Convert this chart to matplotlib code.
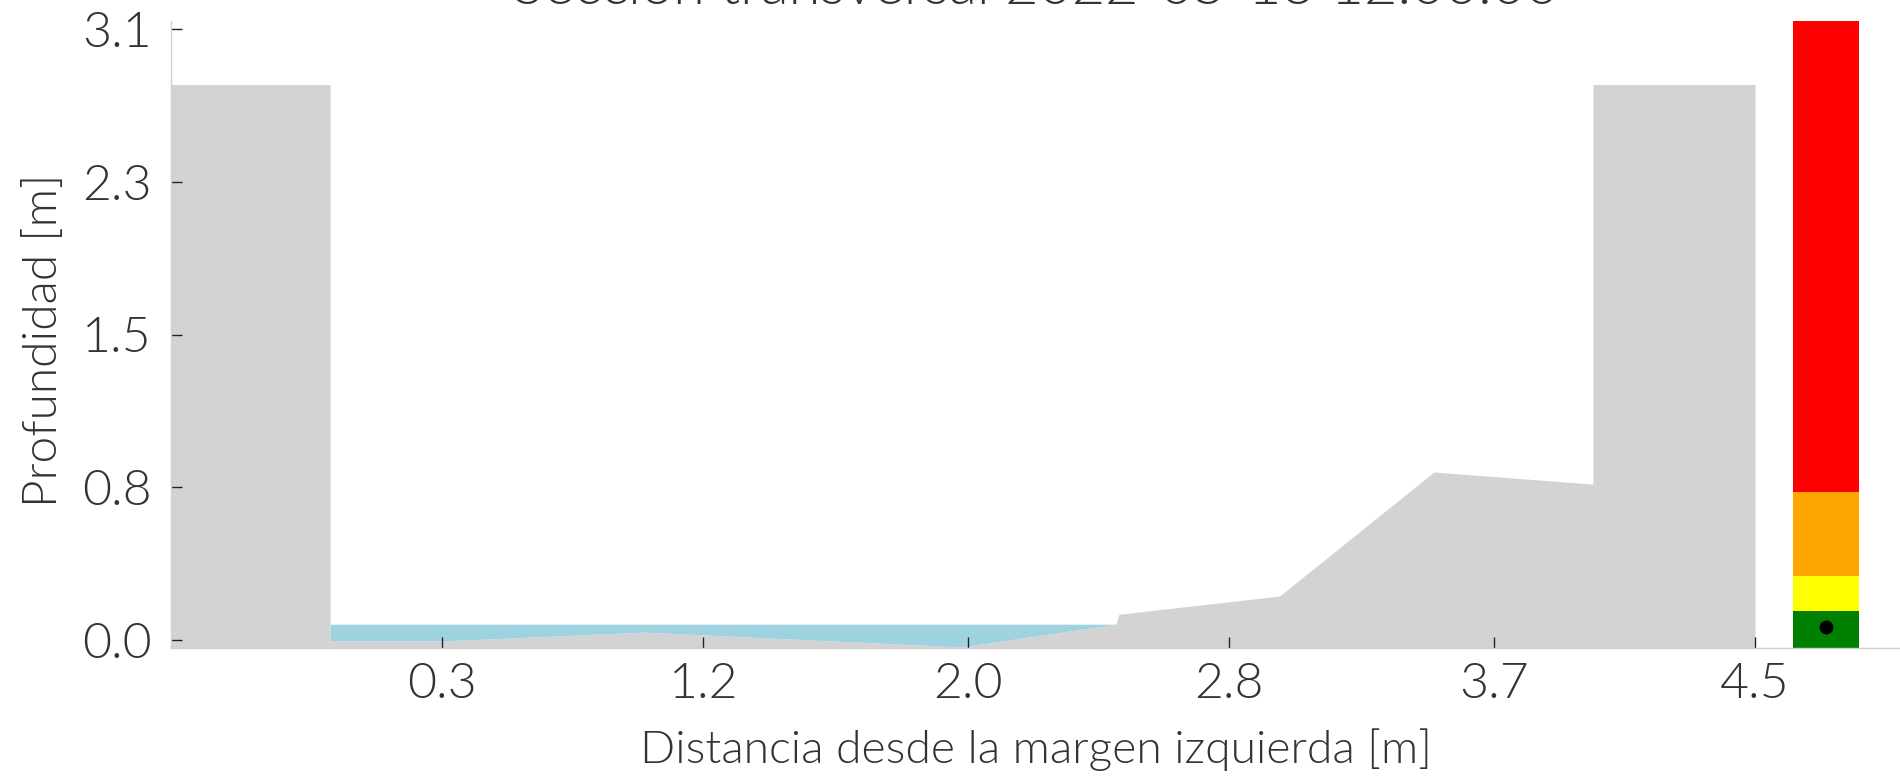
import numpy as np
import matplotlib
matplotlib.use("Agg")
import matplotlib.pyplot as plt

plt.rcParams["font.family"] = ["Lato", "DejaVu Sans"]

# perfil del terreno (margenes + lecho), en metros
terreno_x = [-0.53, -0.025, -0.025, 0.33, 0.97, 1.98, 2.47, 2.48, 2.99, 3.48, 3.985, 3.985, 4.5]
terreno_y = [2.80, 2.80, -0.005, -0.005, 0.04, -0.035, 0.08, 0.13, 0.222, 0.847, 0.786, 2.80, 2.80]

# lecho bajo el agua
lecho_x = [-0.025, 0.33, 0.97, 1.98, 2.47]
lecho_y = [-0.005, -0.005, 0.04, -0.035, 0.08]
nivel_agua = 0.08

# semaforo de alerta
alerta_limites = [-0.04, 0.146, 0.323, 0.746, 3.12]
alerta_colores = ["green", "yellow", "orange", "red"]
alerta_x = 4.725
nivel_actual = 0.065

xticks = [0.33, 1.16, 2.0, 2.83, 3.67, 4.5]
xtick_labels = ["0.3", "1.2", "2.0", "2.8", "3.7", "4.5"]
yticks = [0.0, 0.77, 1.54, 2.31, 3.08]
ytick_labels = ["0.0", "0.8", "1.5", "2.3", "3.1"]

titulo = "Sección transversal 2022-05-13 12:00:00"
fondo = -0.04
texto = "#333333"
peso = 300

fig = plt.figure(figsize=(19, 7.77), dpi=100)
ax = fig.add_axes([171 / 1900, 1 - 648 / 777, (1900 - 171) / 1900, (648 - 21) / 777])

ax.fill_between(terreno_x, terreno_y, fondo, color="lightgray", lw=0)
ax.fill_between(lecho_x, lecho_y, nivel_agua, color="#9fd2e1", lw=0)

for i, c in enumerate(alerta_colores):
    ax.bar(alerta_x, alerta_limites[i + 1] - alerta_limites[i], bottom=alerta_limites[i],
           width=0.21, color=c, lw=0)
ax.plot(alerta_x, nivel_actual, "o", color="black", ms=9)

ax.set_xlim(-0.53, 4.96)
ax.set_ylim(fondo, 3.12)
ax.set_xticks(xticks)
ax.set_xticklabels(xtick_labels, fontweight=peso)
ax.set_yticks(yticks)
ax.set_yticklabels(ytick_labels, fontweight=peso)

ax.tick_params(axis="both", direction="in", length=8, width=1, color="#222222",
               labelcolor=texto, labelsize=36)
ax.tick_params(axis="y", pad=14)
ax.tick_params(axis="x", pad=10)

for s in ["top", "right"]:
    ax.spines[s].set_visible(False)
for s in ["left", "bottom"]:
    ax.spines[s].set_color("#cfcfcf")
    ax.spines[s].set_linewidth(1)

ax.set_xlabel("Distancia desde la margen izquierda [m]", fontsize=33.3, color=texto, fontweight=peso)
ax.xaxis.label.set_va("baseline")
ax.xaxis.set_label_coords(0.5, (648 - 763) / 627)
ax.set_ylabel("Profundidad [m]", fontsize=34.5, color=texto, fontweight=peso)
ax.yaxis.label.set_va("baseline")
ax.yaxis.set_label_coords((57 - 171) / 1729, 0.49)
ax.set_title(titulo, fontsize=41.5, color=texto, pad=12, fontweight=peso)

fig.savefig("out.png", dpi=100)
